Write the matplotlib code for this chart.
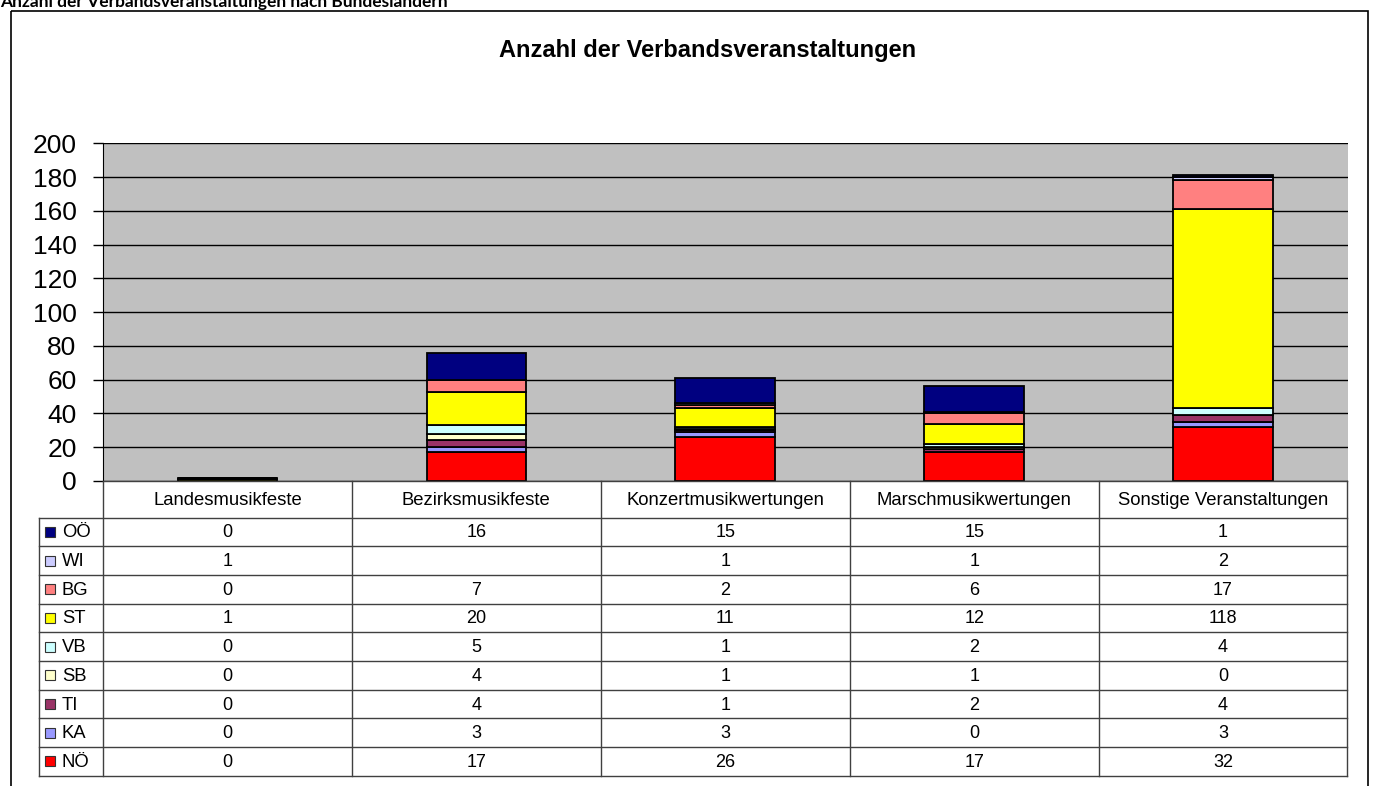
import matplotlib
matplotlib.use("Agg")
import matplotlib.pyplot as plt
from matplotlib.patches import Rectangle
import numpy as np

# ---------------- data ----------------
categories = ["Landesmusikfeste", "Bezirksmusikfeste", "Konzertmusikwertungen",
              "Marschmusikwertungen", "Sonstige Veranstaltungen"]
# table order (top to bottom)
series_names = ["OÖ", "WI", "BG", "ST", "VB", "SB", "TI", "KA", "NÖ"]
OOE = [0, 16, 15, 15, 1]
WI = [1, None, 1, 1, 2]
BG = [0, 7, 2, 6, 17]
ST = [1, 20, 11, 12, 118]
VB = [0, 5, 1, 2, 4]
SB = [0, 4, 1, 1, 0]
TI = [0, 4, 1, 2, 4]
KA = [0, 3, 3, 0, 3]
NOE = [0, 17, 26, 17, 32]
series_values = [OOE, WI, BG, ST, VB, SB, TI, KA, NOE]
series_colors = ["#000080", "#CCCCFF", "#FF8080", "#FFFF00", "#CCFFFF",
                 "#FFFFCC", "#993366", "#9999FF", "#FF0000"]
yticks = list(range(0, 201, 20))

W, H = 1375, 786
fig = plt.figure(figsize=(W / 100, H / 100), dpi=100)
fig.patch.set_facecolor("white")

def fx(px):
    return px / W

def fy(py):
    return 1 - py / H

FONT = "Liberation Sans"

# plot area
L, R, T, B = 103, 1347.5, 143.3, 481
ax = fig.add_axes([fx(L), fy(B), fx(R - L), (B - T) / H])
ax.set_facecolor("#C0C0C0")
x = np.arange(len(categories))
bottom = np.zeros(len(categories))
for name, vals, col in reversed(list(zip(series_names, series_values, series_colors))):
    v = np.array([0 if a is None else a for a in vals], dtype=float)
    ax.bar(x, v, 0.4, bottom=bottom, color=col, edgecolor="black",
           linewidth=1.3, zorder=3)
    bottom += v
ax.set_xlim(-0.5, len(categories) - 0.5)
ax.set_ylim(0, 200)
ax.set_yticks(yticks)
ax.set_yticklabels([str(t) for t in yticks], fontsize=19, family=FONT)
ax.set_xticks([])
ax.tick_params(axis="y", direction="out", length=7, width=1, pad=12, colors="black")
ax.yaxis.grid(True, color="black", linewidth=1)
ax.set_axisbelow(True)
for s in ["top", "right", "bottom"]:
    ax.spines[s].set_visible(False)
ax.spines["left"].set_color("black")

# overlay for table and frame
ov = fig.add_axes([0, 0, 1, 1], zorder=5)
ov.set_xlim(0, W)
ov.set_ylim(H, 0)
ov.axis("off")
ov.patch.set_alpha(0)

# outer frame
ov.add_patch(Rectangle((11, 11), 1368.5 - 11, H + 10, fill=False,
                       edgecolor="black", linewidth=1.2))

# table
lc = "#404040"
ncol = len(categories)
colw = (R - L) / ncol
hdr_top, hdr_bot = B, 517.5
rowh = 28.7
nrow = len(series_names)
tab_bot = hdr_bot + nrow * rowh
lab_left = 39.3

ov.plot([L, R], [hdr_top, hdr_top], color=lc, lw=1)
for k in range(nrow + 1):
    yy = hdr_bot + k * rowh
    ov.plot([lab_left, R], [yy, yy], color=lc, lw=1)
for c in range(ncol + 1):
    xx = L + c * colw
    ov.plot([xx, xx], [hdr_top, tab_bot], color=lc, lw=1)
ov.plot([lab_left, lab_left], [hdr_bot, tab_bot], color=lc, lw=1)

for c, cat in enumerate(categories):
    ov.text(L + (c + 0.5) * colw, (hdr_top + hdr_bot) / 2 + 1, cat,
            ha="center", va="center", fontsize=13.3, family=FONT)

for r, (name, vals, col) in enumerate(zip(series_names, series_values, series_colors)):
    yc = hdr_bot + (r + 0.5) * rowh
    ov.add_patch(Rectangle((45, yc - 5), 10, 10, facecolor=col,
                           edgecolor="#333333", linewidth=0.8))
    ov.text(62, yc + 1, name, ha="left", va="center", fontsize=13.3, family=FONT)
    for c, v in enumerate(vals):
        ov.text(L + (c + 0.5) * colw, yc + 1, "" if v is None else str(v),
                ha="center", va="center", fontsize=13, family=FONT)

# titles
fig.text(fx(708), fy(51), "Anzahl der Verbandsveranstaltungen", ha="center",
         va="center", fontsize=17, fontweight="bold", family=FONT)
fig.text(fx(0), fy(7), "Anzahl der Verbandsveranstaltungen nach Bundesländern",
         ha="left", va="baseline", fontsize=12.5, fontweight="bold", family="Lato")

fig.savefig("out.png", dpi=100)
